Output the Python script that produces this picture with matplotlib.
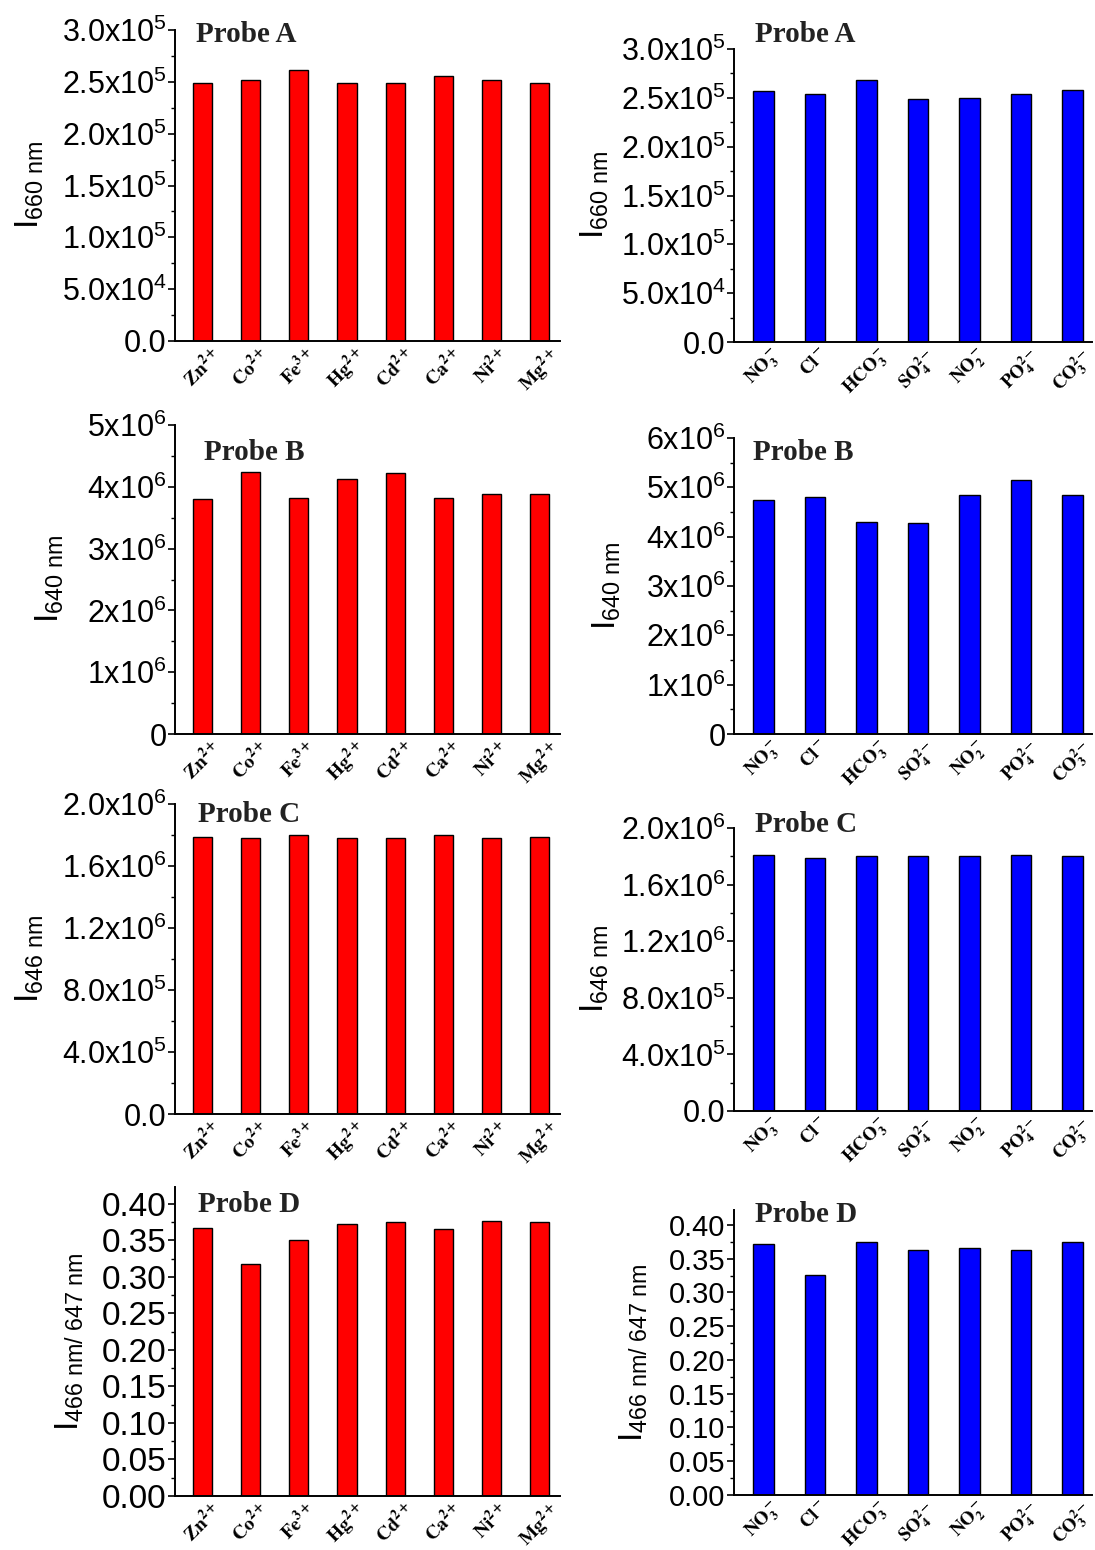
import numpy as np
import matplotlib
matplotlib.use('Agg')
import matplotlib.pyplot as plt
from matplotlib.ticker import MultipleLocator, AutoMinorLocator, FuncFormatter
from matplotlib.transforms import ScaledTranslation

plt.rcParams['font.family'] = 'Liberation Sans'
plt.rcParams['mathtext.fontset'] = 'custom'
plt.rcParams['mathtext.rm'] = 'Liberation Sans'
plt.rcParams['mathtext.it'] = 'Liberation Sans:italic'
plt.rcParams['mathtext.bf'] = 'Liberation Sans:bold'

# categorias
cationes = [r'$\mathbf{Zn^{2+}}$', r'$\mathbf{Co^{2+}}$', r'$\mathbf{Fe^{3+}}$', r'$\mathbf{Hg^{2+}}$',
            r'$\mathbf{Cd^{2+}}$', r'$\mathbf{Ca^{2+}}$', r'$\mathbf{Ni^{2+}}$', r'$\mathbf{Mg^{2+}}$']
aniones = [r'$\mathbf{NO_3^-}$', r'$\mathbf{Cl^-}$', r'$\mathbf{HCO_3^-}$', r'$\mathbf{SO_4^{2-}}$',
           r'$\mathbf{NO_2^-}$', r'$\mathbf{PO_4^{2-}}$', r'$\mathbf{CO_3^{2-}}$']

# valores
probeA_cat = [2.49e5, 2.52e5, 2.61e5, 2.49e5, 2.49e5, 2.56e5, 2.52e5, 2.49e5]
probeA_an = [2.57e5, 2.54e5, 2.68e5, 2.49e5, 2.50e5, 2.54e5, 2.58e5]
probeB_cat = [3.80e6, 4.24e6, 3.82e6, 4.13e6, 4.22e6, 3.82e6, 3.89e6, 3.89e6]
probeB_an = [4.74e6, 4.80e6, 4.29e6, 4.27e6, 4.85e6, 5.15e6, 4.85e6]
probeC_cat = [1.79e6, 1.78e6, 1.80e6, 1.78e6, 1.78e6, 1.80e6, 1.78e6, 1.79e6]
probeC_an = [1.81e6, 1.79e6, 1.80e6, 1.80e6, 1.80e6, 1.81e6, 1.80e6]
probeD_cat = [0.367, 0.317, 0.351, 0.373, 0.375, 0.366, 0.377, 0.375]
probeD_an = [0.371, 0.326, 0.374, 0.363, 0.366, 0.363, 0.375]

titulos = ['Probe A', 'Probe B', 'Probe C', 'Probe D']
ylabels = [r'I$_{\rm 660\ nm}$', r'I$_{\rm 640\ nm}$', r'I$_{\rm 646\ nm}$', r'I$_{\rm 466\ nm/\ 647\ nm}$']

W, H = 1095, 1550
fig = plt.figure(figsize=(W / 100, H / 100), dpi=100)


def etiqueta(v, dec, sci):
    if v < -1e-12:
        return ''
    if abs(v) < 1e-12:
        return '0' if dec == 0 else '%.*f' % (dec, 0.0)
    if not sci:
        return '%.*f' % (dec, v)
    e = int(np.floor(np.log10(v) + 1e-9))
    m = v / 10 ** e
    return '%.*fx10$^{%d}$' % (dec, m, e)


def panel(caja, cats, vals, color, ymax, paso, dec, sci, titulo, tpos, ylab, labx,
          tsize=22, xder=0.42, xsize=14, dx=0):
    x0, y0, x1, y1 = caja
    ax = fig.add_axes([x0 / W, 1 - y1 / H, (x1 - x0) / W, (y1 - y0) / H])
    xx = np.arange(1, len(cats) + 1)
    ax.bar(xx, vals, width=0.4, color=color, edgecolor='black', linewidth=1.0)
    ax.set_xlim(0.43, len(cats) + xder)
    ax.set_ylim(0, ymax)
    ax.yaxis.set_major_locator(MultipleLocator(paso))
    ax.yaxis.set_minor_locator(AutoMinorLocator(2))
    ax.yaxis.set_major_formatter(FuncFormatter(lambda v, p: etiqueta(v, dec, sci)))
    ax.set_xticks(xx)
    ax.set_xticklabels(cats, rotation=45, fontsize=xsize, math_fontfamily='stix')
    if dx != 0:
        for lab in ax.get_xticklabels():
            lab.set_transform(lab.get_transform() + ScaledTranslation(dx / 100, 0, fig.dpi_scale_trans))
    ax.tick_params(axis='x', length=0, pad=2)
    ax.tick_params(axis='y', which='major', direction='out', length=5, width=1.2, labelsize=tsize, pad=1)
    ax.tick_params(axis='y', which='minor', direction='out', length=3, width=1.0)
    for s in ['top', 'right']:
        ax.spines[s].set_visible(False)
    for s in ['left', 'bottom']:
        ax.spines[s].set_linewidth(1.4)
    ax.set_ylabel(ylab, fontsize=24)
    ax.yaxis.set_label_coords((labx - x0) / (x1 - x0), 0.5)
    fig.text(tpos[0] / W, 1 - tpos[1] / H, titulo, family='Liberation Serif', weight='bold',
             fontsize=21, color='#222222', ha='left', va='center')
    return ax


# columna izquierda (cationes)
panel((175, 30, 560, 341), cationes, probeA_cat, '#ff0000', 3.0e5, 5e4, 1, True, titulos[0], (196, 35), ylabels[0], 46)
panel((175, 425, 560, 734), cationes, probeB_cat, '#ff0000', 5e6, 1e6, 0, True, titulos[1], (204, 452), ylabels[1], 66)
panel((175, 804, 560, 1114), cationes, probeC_cat, '#ff0000', 2.0e6, 4e5, 1, True, titulos[2], (198, 815), ylabels[2], 46)
panel((175, 1187, 560, 1496), cationes, probeD_cat, '#ff0000', 0.423, 0.05, 2, False, titulos[3], (198, 1205), ylabels[3], 86, tsize=24)

# columna derecha (aniones)
panel((734, 49, 1092, 342), aniones, probeA_an, '#0000ff', 3.0e5, 5e4, 1, True, titulos[0], (755, 35), ylabels[0], 611,
      xder=0.38, xsize=13.5, dx=-8)
panel((734, 438, 1092, 734), aniones, probeB_an, '#0000ff', 6e6, 1e6, 0, True, titulos[1], (753, 452), ylabels[1], 623,
      xder=0.38, xsize=13.5, dx=-8)
panel((734, 828, 1092, 1111), aniones, probeC_an, '#0000ff', 2.0e6, 4e5, 1, True, titulos[2], (755, 825), ylabels[2], 611,
      xder=0.38, xsize=13.5, dx=-8)
panel((734, 1210, 1092, 1495), aniones, probeD_an, '#0000ff', 0.422, 0.05, 2, False, titulos[3], (755, 1215), ylabels[3], 650,
      tsize=21, xder=0.38, xsize=13.5, dx=-8)

fig.savefig('out.png', dpi=100)
